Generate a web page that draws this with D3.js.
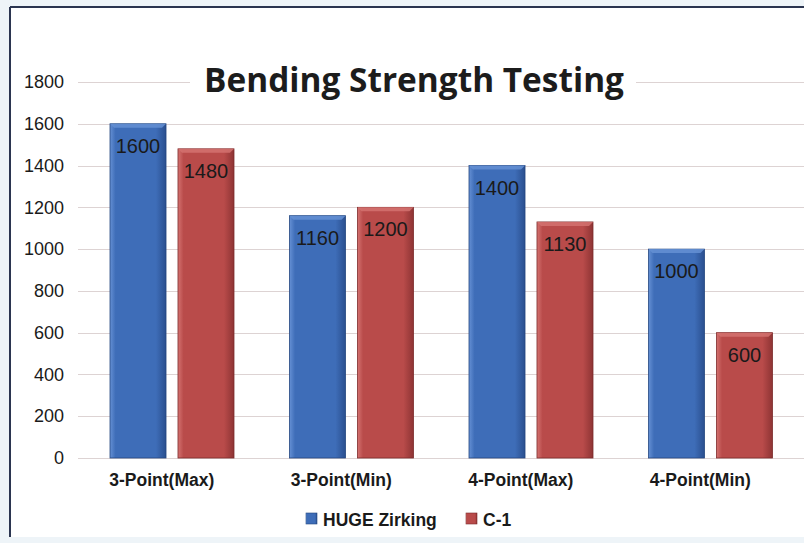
<!DOCTYPE html>
<html>
<head>
<meta charset="utf-8">
<script src="https://cdn.jsdelivr.net/npm/d3@7/dist/d3.min.js"></script>
<style>
  html, body { margin: 0; padding: 0; background: #eef4f8; }
  svg { display: block; }
</style>
</head>
<body>
<svg id="chart" width="804" height="543"></svg>
<script>
// Bending strength values (MPa) per test type
const categories = ["3-Point(Max)", "3-Point(Min)", "4-Point(Max)", "4-Point(Min)"];
const seriesNames = ["HUGE Zirking", "C-1"];
const hugeZirking = [1600, 1160, 1400, 1000];
const c1 = [1480, 1200, 1130, 600];
const yTicks = [0, 200, 400, 600, 800, 1000, 1200, 1400, 1600, 1800];
const titleText = "Bending Strength Testing";

const seriesValues = [hugeZirking, c1];
const rows = categories.map((c, i) => ({
  category: c,
  values: seriesNames.map((s, j) => ({ series: s, idx: j, value: seriesValues[j][i] }))
}));

const svg = d3.select("#chart");
const W = 804, H = 543;

const defs = svg.append("defs");
const palettes = [
  { id: "gBlue", light: "#6590d4", mid: "#3e6db8", dark: "#2a4f8f", edge: "#24467f" },
  { id: "gRed", light: "#d47270", mid: "#b94b4a", dark: "#8e3434", edge: "#7c2b2b" }
];
palettes.forEach(p => {
  const g = defs.append("linearGradient").attr("id", p.id)
    .attr("x1", 0).attr("x2", 1).attr("y1", 0).attr("y2", 0);
  g.append("stop").attr("offset", "0%").attr("stop-color", p.light);
  g.append("stop").attr("offset", "10%").attr("stop-color", p.mid);
  g.append("stop").attr("offset", "82%").attr("stop-color", p.mid);
  g.append("stop").attr("offset", "100%").attr("stop-color", p.dark);
});

// Chart frame
svg.append("rect").attr("x", 10).attr("y", 7).attr("width", W).attr("height", 530)
  .attr("fill", "#ffffff");
svg.append("line").attr("x1", 10).attr("x2", W).attr("y1", 7).attr("y2", 7)
  .attr("stroke", "#2b3550").attr("stroke-width", 2);
svg.append("line").attr("x1", 10).attr("x2", 10).attr("y1", 7).attr("y2", 537)
  .attr("stroke", "#2b3550").attr("stroke-width", 2);

// Scales: outer band per test type, inner band per series
const x0 = d3.scaleBand().domain(categories).range([78, 796]).paddingInner(0).paddingOuter(0);
const x1 = d3.scaleBand().domain(seriesNames).range([32, 156]).paddingInner(0.176).paddingOuter(0);
const y = d3.scaleLinear().domain([0, 1800]).range([458, 82]);

// Gridlines
const grid = svg.append("g").attr("class", "grid");
grid.selectAll("line").data(yTicks).join("line")
  .attr("x1", 78).attr("x2", W)
  .attr("y1", d => Math.round(y(d)) + 0.5).attr("y2", d => Math.round(y(d)) + 0.5)
  .attr("stroke", "#ddd3d3").attr("stroke-width", 1.2);

// Y axis labels
const yAxis = d3.axisLeft(y).tickValues(yTicks).tickSize(0).tickPadding(0).tickFormat(d3.format("d"));
svg.append("g").attr("transform", "translate(64,0)").call(yAxis)
  .call(g => g.select(".domain").remove())
  .call(g => g.selectAll("text")
    .attr("font-family", "Liberation Sans, Arial, sans-serif")
    .attr("font-size", 18).attr("fill", "#1a1a1a"));

// Title with white backing over the top gridline
const titleG = svg.append("g");
titleG.append("rect").attr("fill", "#ffffff")
  .attr("x", 190).attr("y", 62).attr("width", 446).attr("height", 36);
titleG.append("text")
  .attr("x", 414).attr("y", 92).attr("text-anchor", "middle")
  .attr("font-family", "Open Sans, sans-serif").attr("font-weight", 700)
  .attr("font-size", 34).attr("fill", "#1c1c1c")
  .attr("textLength", 420).attr("lengthAdjust", "spacingAndGlyphs")
  .text(titleText);

// Bars
const groups = svg.append("g").selectAll("g").data(rows).join("g")
  .attr("transform", d => `translate(${x0(d.category)},0)`);

groups.selectAll("rect.bar").data(d => d.values).join("rect")
  .attr("class", "bar")
  .attr("x", d => x1(d.series))
  .attr("y", d => y(d.value))
  .attr("width", x1.bandwidth())
  .attr("height", d => y(0) - y(d.value))
  .attr("fill", d => `url(#${palettes[d.idx].id})`)
  .attr("stroke", d => palettes[d.idx].edge).attr("stroke-width", 0.8);

// Top bevel highlight
groups.selectAll("path.bevel").data(d => d.values).join("path")
  .attr("class", "bevel")
  .attr("d", d => {
    const xl = x1(d.series), xr = xl + x1.bandwidth(), t = y(d.value);
    return `M${xl},${t} L${xr},${t} L${xr - 4},${t + 4} L${xl + 4},${t + 4} Z`;
  })
  .attr("fill", d => palettes[d.idx].light).attr("opacity", 0.85);

// Value labels
groups.selectAll("text.val").data(d => d.values).join("text")
  .attr("class", "val")
  .attr("x", d => x1(d.series) + x1.bandwidth() / 2)
  .attr("y", d => y(d.value) + 29)
  .attr("text-anchor", "middle")
  .attr("font-family", "Liberation Sans, Arial, sans-serif")
  .attr("font-size", 20).attr("fill", "#1a1a1a")
  .text(d => d.value);

// Category labels
const xAxis = d3.axisBottom(x0).tickSize(0).tickPadding(0);
svg.append("g").attr("transform", "translate(-6,474)").call(xAxis)
  .call(g => g.select(".domain").remove())
  .call(g => g.selectAll("text")
    .attr("font-family", "Liberation Sans, Arial, sans-serif")
    .attr("font-weight", 700).attr("font-size", 17.5).attr("fill", "#1a1a1a"));

// Legend
const legendItems = [
  { name: seriesNames[0], idx: 0, x: 306 },
  { name: seriesNames[1], idx: 1, x: 466 }
];
const legend = svg.append("g").selectAll("g").data(legendItems).join("g")
  .attr("transform", d => `translate(${d.x},519)`);
legend.append("rect").attr("x", 0).attr("y", -6).attr("width", 11).attr("height", 11)
  .attr("fill", d => `url(#${palettes[d.idx].id})`)
  .attr("stroke", d => palettes[d.idx].edge).attr("stroke-width", 0.6);
legend.append("text").attr("x", 17).attr("y", 7)
  .attr("font-family", "Liberation Sans, Arial, sans-serif")
  .attr("font-weight", 700).attr("font-size", 17.5).attr("fill", "#1a1a1a")
  .text(d => d.name);
</script>
</body>
</html>
